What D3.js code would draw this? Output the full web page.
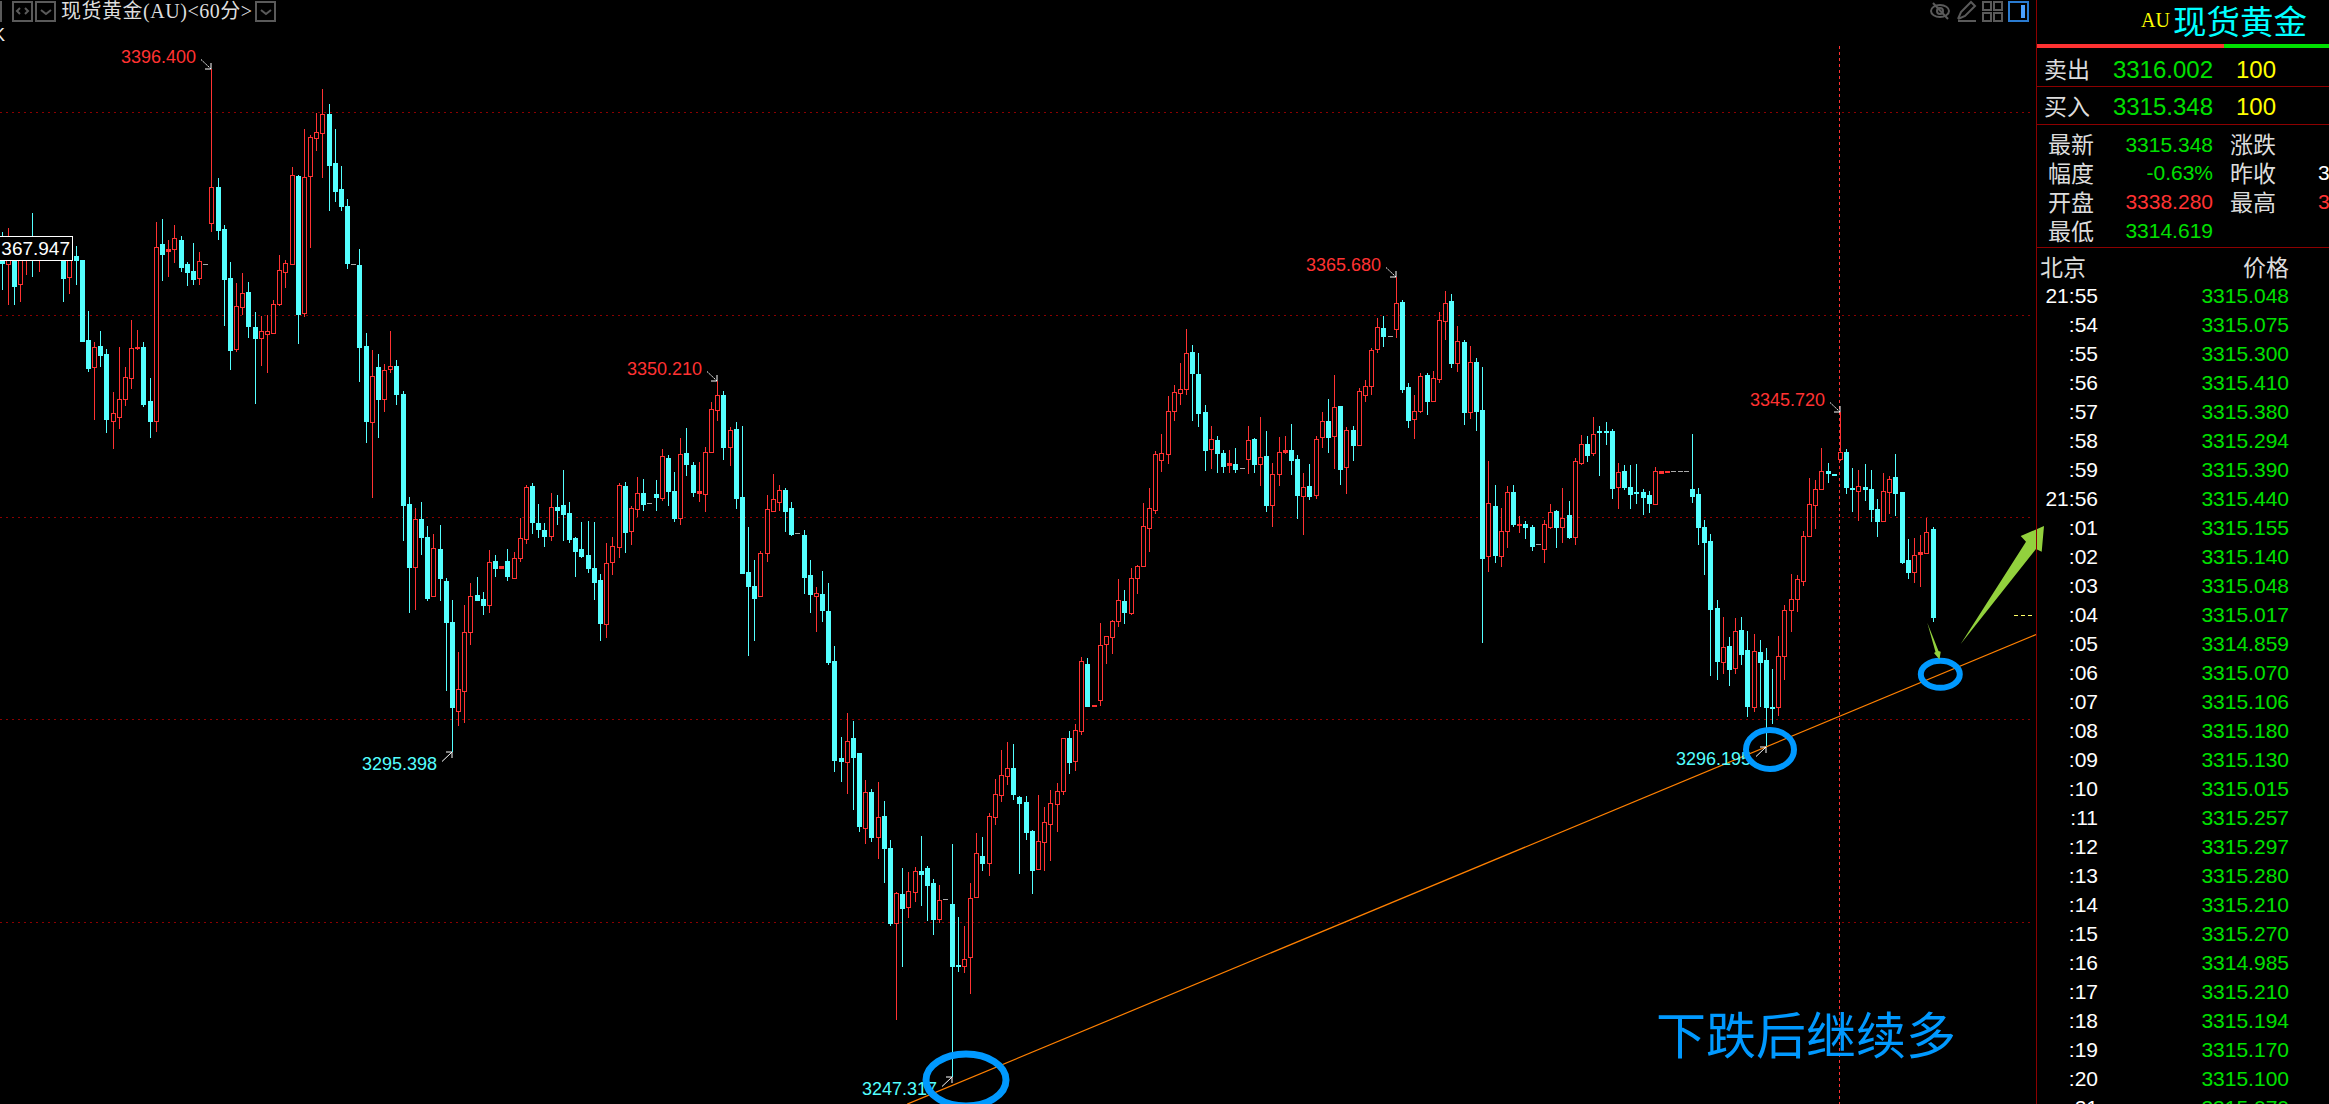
<!DOCTYPE html>
<html>
<head>
<meta charset="utf-8">
<script src="https://cdn.jsdelivr.net/npm/d3@7"></script>
<style>
  html, body { margin: 0; padding: 0; background: #000; overflow: hidden; }
  svg { display: block; }
  text { font-family: "Liberation Sans", Arial, sans-serif; }
  .cjk { font-family: "Noto Sans CJK SC", sans-serif; }
</style>
</head>
<body>
<svg id="chart" width="2329" height="1104"></svg>
<script>
// 60 minute candles, oldest first
var opens = [
  3369.6,3367.6,3368.9,3364.6,3368.4,3370.4,3368.7,3370.8,3369.0,3370.5,
  3368.9,3365.6,3368.7,3368.1,3356.3,3352.3,3355.4,3354.2,3344.3,3344.9,
  3347.6,3350.7,3355.1,3355.3,3347.3,3344.3,3370.5,3369.5,3369.8,3371.1,
  3367.6,3366.5,3365.5,3367.6,3373.6,3378.9,3372.7,3365.5,3355.0,3361.2,
  3363.4,3358.2,3356.6,3357.2,3357.3,3361.6,3366.4,3367.6,3380.6,3360.3,
  3380.6,3386.2,3386.9,3389.7,3382.5,3378.6,3376.1,3367.6,3367.4,3355.4,
  3344.2,3352.3,3347.6,3352.0,3352.5,3348.3,3332.1,3322.7,3329.8,3327.2,
  3318.5,3325.4,3320.7,3314.6,3301.4,3304.4,3313.1,3318.6,3318.0,3317.1,
  3323.6,3322.6,3323.6,3321.1,3324.1,3326.9,3334.7,3329.2,3328.2,3327.3,
  3331.6,3331.9,3330.7,3327.0,3325.4,3324.5,3322.6,3320.8,3314.3,3323.5,
  3325.7,3334.7,3328.1,3331.3,3333.7,3332.2,3333.5,3332.9,3338.9,3334.0,
  3330.0,3339.6,3337.8,3333.7,3333.5,3339.7,3346.0,3348.2,3340.5,3343.2,
  3333.1,3322.0,3319.9,3318.5,3324.8,3331.0,3332.4,3334.1,3331.5,3327.8,
  3327.5,3321.6,3318.5,3318.7,3316.2,3308.8,3294.5,3293.9,3297.5,3295.2,
  3284.1,3289.5,3282.8,3285.9,3281.2,3270.1,3274.4,3272.4,3274.7,3277.8,
  3278.2,3276.0,3270.7,3273.6,3272.9,3263.9,3263.7,3265.1,3273.9,3280.0,
  3279.0,3285.8,3289.0,3291.8,3293.0,3288.7,3288.0,3283.7,3278.1,3282.1,
  3284.7,3287.7,3289.6,3297.5,3294.0,3298.5,3308.4,3302.3,3303.1,3311.3,
  3312.4,3314.8,3317.7,3315.9,3321.1,3322.9,3328.5,3331.2,3338.6,3339.5,
  3345.8,3348.5,3349.1,3354.5,3351.3,3345.7,3340.2,3341.5,3339.6,3337.8,
  3338.0,3337.4,3338.7,3341.7,3338.0,3339.2,3331.9,3336.5,3339.7,3340.0,
  3338.7,3333.2,3334.7,3333.4,3342.0,3344.3,3342.1,3346.6,3337.5,3343.0,
  3340.8,3348.2,3349.5,3355.0,3358.1,3356.9,3357.9,3361.9,3349.4,3344.6,
  3345.8,3351.1,3347.3,3350.5,3359.1,3362.1,3352.9,3356.0,3345.7,3353.1,
  3346.0,3324.4,3331.8,3324.4,3328.1,3333.8,3328.9,3329.1,3328.7,3326.1,
  3325.4,3328.7,3331.0,3328.7,3330.4,3327.2,3338.1,3340.9,3339.6,3342.9,
  3342.9,3342.9,3334.6,3336.9,3334.6,3333.8,3333.8,3333.4,3332.1,3336.6,
  3336.9,3336.9,3336.9,3336.9,3334.3,3333.5,3328.7,3326.6,3316.7,3308.7,
  3311.1,3307.8,3313.4,3310.5,3302.0,3310.2,3309.0,3302.0,3302.0,3309.6,
  3316.4,3318.0,3320.7,3327.3,3331.9,3334.3,3336.9,3336.5,3338.7,3339.7,
  3334.4,3334.0,3334.6,3334.3,3331.3,3329.5,3333.8,3336.1,3333.8,3323.8,
  3322.0,3324.7,3324.8,3328.4
];
var highs = [
  3372.3,3372.9,3369.6,3369.6,3371.1,3375.1,3371.4,3371.5,3371.4,3371.1,
  3370.4,3369.9,3370.2,3368.1,3360.6,3356.0,3357.6,3355.0,3348.6,3355.3,
  3352.3,3359.3,3357.8,3356.0,3350.7,3373.8,3374.2,3371.1,3373.3,3371.7,
  3367.9,3370.7,3369.3,3367.6,3396.4,3380.3,3373.3,3367.9,3364.7,3366.2,
  3364.9,3360.5,3359.9,3360.0,3362.2,3368.9,3368.1,3381.9,3380.7,3387.5,
  3386.6,3389.9,3393.4,3391.2,3387.5,3382.0,3377.2,3367.6,3369.8,3357.4,
  3354.8,3354.2,3352.8,3357.6,3353.4,3348.8,3333.1,3331.5,3332.4,3328.8,
  3327.6,3329.0,3321.1,3317.9,3310.2,3317.1,3320.4,3321.3,3319.0,3325.3,
  3324.5,3322.9,3325.4,3325.0,3330.0,3334.9,3335.2,3332.1,3329.2,3333.7,
  3333.4,3337.1,3332.4,3327.2,3329.4,3329.5,3329.4,3321.7,3326.3,3327.2,
  3335.2,3335.3,3331.8,3336.1,3335.8,3332.2,3335.6,3340.2,3339.3,3336.8,
  3341.8,3343.3,3338.3,3338.3,3340.5,3347.1,3350.21,3348.8,3343.4,3344.2,
  3343.6,3328.7,3323.8,3325.1,3333.4,3336.5,3334.9,3334.4,3332.4,3327.8,
  3328.2,3323.8,3319.8,3322.2,3320.4,3311.1,3297.6,3301.1,3300.0,3295.2,
  3291.2,3289.9,3290.9,3288.1,3282.4,3274.7,3278.2,3277.6,3278.4,3283.0,
  3278.5,3276.6,3275.7,3273.6,3281.8,3271.0,3269.6,3276.0,3283.4,3282.8,
  3286.4,3291.4,3295.7,3296.9,3296.6,3288.9,3288.9,3283.8,3289.0,3287.2,
  3289.8,3290.8,3297.5,3298.5,3299.5,3309.4,3309.3,3302.4,3314.5,3312.5,
  3314.9,3321.0,3319.3,3322.6,3323.0,3332.2,3334.4,3339.9,3342.4,3348.0,
  3349.7,3352.9,3357.9,3355.6,3354.4,3346.7,3343.6,3342.1,3340.0,3340.0,
  3340.3,3337.4,3343.6,3341.8,3344.9,3342.9,3338.1,3342.0,3342.1,3343.9,
  3339.3,3336.6,3338.0,3342.1,3345.7,3347.6,3351.1,3346.6,3343.4,3343.6,
  3349.2,3350.4,3355.1,3359.6,3359.9,3356.9,3365.68,3362.2,3350.0,3348.2,
  3351.4,3351.4,3351.7,3360.5,3363.6,3363.1,3358.4,3356.3,3355.4,3353.7,
  3352.3,3338.4,3334.9,3331.5,3334.7,3334.9,3330.3,3329.5,3329.0,3326.1,
  3329.7,3332.1,3331.2,3334.4,3332.5,3338.9,3342.3,3342.1,3344.9,3343.6,
  3344.2,3343.2,3338.1,3337.8,3337.8,3338.0,3334.3,3334.0,3337.5,3336.9,
  3337.0,3336.9,3336.9,3336.9,3342.4,3334.4,3329.7,3327.6,3317.9,3315.3,
  3312.4,3315.2,3315.3,3313.3,3312.8,3311.9,3310.8,3307.7,3312.5,3317.1,
  3321.7,3321.6,3328.1,3335.9,3335.6,3340.3,3338.1,3336.5,3345.72,3340.2,
  3337.4,3337.1,3338.0,3337.1,3332.8,3336.6,3336.2,3339.5,3333.8,3326.9,
  3327.0,3327.5,3330.0,3328.7
];
var lows = [
  3363.7,3361.5,3361.5,3361.9,3365.9,3365.6,3366.4,3368.4,3368.4,3368.3,
  3361.9,3363.1,3364.4,3356.2,3351.6,3344.5,3352.3,3342.6,3340.2,3343.2,
  3346.6,3349.1,3354.8,3346.4,3341.8,3342.7,3365.0,3365.6,3367.7,3366.4,
  3364.3,3364.4,3364.4,3367.6,3372.3,3371.1,3358.4,3351.9,3354.5,3360.0,
  3356.6,3346.9,3352.5,3351.4,3357.3,3361.3,3364.0,3367.6,3355.7,3359.7,
  3369.9,3384.3,3380.3,3375.4,3376.7,3375.4,3366.8,3367.6,3350.1,3341.1,
  3333.0,3341.8,3345.7,3351.4,3346.7,3326.6,3315.9,3316.4,3324.5,3317.7,
  3318.5,3317.7,3304.4,3295.398,3299.2,3299.7,3311.2,3317.9,3315.6,3315.9,
  3321.3,3322.6,3320.7,3321.1,3323.5,3326.1,3327.6,3327.0,3325.7,3326.6,
  3328.9,3326.6,3326.3,3321.3,3324.1,3321.8,3317.9,3311.8,3312.2,3321.6,
  3324.1,3324.8,3326.0,3330.1,3331.0,3332.2,3331.0,3332.5,3331.8,3329.4,
  3328.9,3336.2,3333.1,3332.4,3330.9,3339.7,3344.3,3338.6,3337.7,3331.3,
  3321.9,3309.6,3311.8,3318.5,3323.5,3331.0,3331.0,3327.9,3327.3,3327.8,
  3318.7,3315.9,3313.1,3314.6,3308.2,3292.4,3290.9,3289.2,3286.8,3283.5,
  3281.8,3282.1,3279.6,3276.0,3269.6,3255.7,3263.6,3270.8,3273.2,3272.6,
  3270.4,3268.3,3270.1,3273.6,3247.317,3262.8,3262.7,3259.6,3273.9,3277.8,
  3277.0,3284.6,3288.0,3290.5,3288.3,3277.3,3282.4,3274.4,3278.1,3277.8,
  3279.3,3283.5,3289.0,3292.1,3292.6,3297.9,3302.2,3302.3,3302.2,3308.4,
  3309.9,3313.9,3314.3,3315.6,3318.7,3322.9,3325.0,3330.6,3336.8,3338.0,
  3344.3,3346.7,3348.2,3344.3,3343.4,3336.9,3337.2,3336.6,3336.6,3336.6,
  3336.6,3337.4,3336.5,3336.6,3334.7,3330.9,3328.7,3334.7,3339.5,3336.4,
  3329.8,3327.5,3332.7,3332.8,3340.3,3339.6,3337.2,3334.9,3333.5,3338.4,
  3340.8,3347.1,3348.2,3354.4,3355.3,3356.9,3356.6,3348.5,3343.3,3341.7,
  3345.5,3345.2,3347.3,3350.0,3356.3,3352.2,3351.6,3343.7,3344.6,3342.9,
  3311.5,3322.0,3323.3,3322.7,3325.6,3328.7,3327.8,3326.9,3325.1,3326.1,
  3323.3,3328.4,3325.6,3326.3,3326.9,3326.0,3337.8,3338.3,3339.2,3336.2,
  3340.8,3332.8,3331.3,3334.1,3331.3,3332.1,3330.4,3330.7,3332.1,3336.6,
  3336.9,3336.9,3336.9,3336.9,3332.2,3326.0,3321.6,3306.6,3306.0,3306.9,
  3305.1,3306.9,3308.2,3300.6,3301.3,3302.0,3296.195,3299.5,3300.7,3306.0,
  3313.1,3316.1,3319.9,3327.3,3328.4,3334.3,3335.2,3336.4,3338.4,3333.5,
  3330.9,3329.5,3332.5,3329.4,3327.2,3329.5,3330.6,3330.3,3323.2,3321.0,
  3320.4,3319.8,3324.8,3314.6
];
var closes = [
  3367.7,3369.3,3364.3,3368.4,3369.9,3368.7,3370.4,3369.3,3370.8,3368.9,
  3365.5,3368.9,3368.1,3356.2,3352.2,3355.3,3354.1,3344.6,3345.5,3347.6,
  3350.8,3355.1,3355.3,3346.8,3344.3,3370.1,3369.0,3369.8,3371.4,3367.1,
  3366.4,3365.3,3368.0,3367.6,3378.9,3372.6,3365.3,3354.8,3361.3,3363.3,
  3358.4,3356.6,3357.6,3357.6,3361.6,3366.7,3367.7,3380.7,3360.2,3380.4,
  3386.3,3387.1,3389.7,3382.2,3378.4,3376.1,3367.7,3367.6,3355.3,3344.3,
  3351.0,3347.6,3351.9,3352.5,3348.3,3331.9,3322.7,3329.8,3327.2,3318.2,
  3325.6,3321.1,3314.6,3302.0,3304.7,3313.1,3318.5,3317.9,3317.1,3323.5,
  3322.6,3322.9,3321.4,3324.1,3327.0,3334.6,3329.4,3328.4,3327.3,3331.6,
  3331.2,3330.6,3326.9,3325.1,3324.4,3322.6,3320.5,3314.5,3323.3,3325.8,
  3334.9,3327.9,3331.5,3333.7,3332.1,3332.2,3333.1,3339.2,3334.0,3330.0,
  3339.5,3338.0,3333.8,3334.0,3339.7,3346.1,3348.2,3340.5,3343.0,3333.0,
  3321.9,3319.9,3318.2,3324.8,3331.3,3332.8,3334.1,3331.0,3327.6,3327.8,
  3321.3,3318.7,3318.9,3316.4,3308.7,3294.2,3294.0,3297.0,3294.6,3284.4,
  3289.5,3282.8,3285.8,3281.2,3270.1,3274.5,3272.3,3274.8,3277.8,3277.3,
  3275.7,3270.7,3273.5,3273.6,3263.7,3263.7,3264.8,3273.8,3280.4,3279.0,
  3285.9,3289.2,3292.0,3293.0,3289.2,3287.8,3283.5,3277.9,3282.2,3285.0,
  3287.8,3289.6,3297.5,3293.9,3298.6,3308.8,3302.2,3302.4,3311.2,3312.5,
  3314.8,3317.9,3316.1,3321.1,3322.9,3328.8,3331.5,3339.5,3339.6,3345.8,
  3348.6,3349.1,3354.4,3351.4,3345.5,3340.0,3341.7,3339.6,3337.7,3338.1,
  3337.2,3337.4,3341.5,3338.0,3339.0,3331.9,3336.5,3339.7,3340.0,3338.6,
  3333.4,3334.6,3333.2,3341.7,3344.3,3342.0,3346.4,3337.2,3343.0,3340.8,
  3348.8,3349.5,3354.8,3358.2,3356.9,3356.9,3361.8,3349.1,3344.5,3345.8,
  3351.0,3347.3,3350.7,3359.3,3361.8,3352.9,3356.2,3345.7,3353.1,3345.8,
  3324.1,3332.2,3324.5,3328.1,3333.8,3329.1,3329.1,3328.7,3325.9,3326.1,
  3329.1,3330.9,3328.7,3330.0,3327.2,3338.4,3340.9,3339.3,3342.4,3342.7,
  3342.7,3334.4,3336.8,3334.6,3333.5,3333.7,3333.1,3332.2,3336.9,3336.9,
  3337.0,3336.9,3336.9,3336.9,3333.2,3328.7,3326.4,3316.5,3308.8,3310.9,
  3307.7,3313.3,3309.9,3302.2,3310.3,3308.7,3302.0,3301.9,3309.6,3316.4,
  3318.0,3321.0,3327.3,3332.1,3334.3,3336.9,3336.6,3336.4,3339.7,3334.6,
  3334.3,3334.7,3334.3,3331.3,3329.5,3334.0,3335.8,3333.7,3323.5,3322.0,
  3324.5,3325.0,3327.9,3315.3
];

var gridPrices = [3390.0, 3360.0, 3330.1, 3300.2, 3270.3];

// extreme price callouts: candle number, price, text, high or low
var extremeIndex = [34, 116, 226, 298, 73, 154, 286];
var extremePrice = [3396.4, 3350.21, 3365.68, 3345.72, 3295.398, 3247.317, 3296.195];
var extremeText = ["3396.400", "3350.210", "3365.680", "3345.720", "3295.398", "3247.317", "3296.195"];
var extremeIsHigh = [true, true, true, true, false, false, false];

// trend line ends, candle number and price
var trendIndex = [146.8, 329.9];
var trendPrice = [3243.3, 3312.8];

var lastPrice = 3315.7;
var crossIndex = 297.8;

// right panel
var quoteTimes = ["21:55", ":54", ":55", ":56", ":57", ":58", ":59", "21:56", ":01", ":02", ":03", ":04", ":05", ":06",
  ":07", ":08", ":09", ":10", ":11", ":12", ":13", ":14", ":15", ":16", ":17", ":18", ":19", ":20", ":21"];
var quotePrices = ["3315.048", "3315.075", "3315.300", "3315.410", "3315.380", "3315.294", "3315.390", "3315.440",
  "3315.155", "3315.140", "3315.048", "3315.017", "3314.859", "3315.070", "3315.106", "3315.180", "3315.130",
  "3315.015", "3315.257", "3315.297", "3315.280", "3315.210", "3315.270", "3314.985", "3315.210", "3315.194",
  "3315.170", "3315.100", "3315.070"];

var RED = "#ff3232", CYAN = "#54ffff", GREEN = "#00e000", BLUE = "#0099ff", LEAF = "#92d13d", DARKRED = "#8c0000";
var panelX = 2036.5;

var svg = d3.select("#chart");
var x = d3.scaleLinear().domain([0, opens.length - 1]).range([1.6, 1932.5]);
var y = d3.scaleLinear().domain([3396.4, 3247.317]).range([69, 1077]);

// grid
var gridAxis = d3.axisLeft(y).tickValues(gridPrices).tickSize(-(panelX - 4)).tickFormat("");
var grid = svg.append("g").call(gridAxis);
grid.select(".domain").remove();
grid.selectAll("line")
  .attr("stroke", "#8c0000").attr("stroke-dasharray", "2 4")
  .attr("shape-rendering", "crispEdges");

// crosshair
svg.append("line")
  .attr("x1", Math.round(x(crossIndex)) + 0.5).attr("x2", Math.round(x(crossIndex)) + 0.5)
  .attr("y1", 46).attr("y2", 1104)
  .attr("stroke", "#ff3232").attr("stroke-dasharray", "3 3")
  .attr("shape-rendering", "crispEdges");

// candles
var candles = d3.range(opens.length).map(function(i) {
  return {i: i, o: opens[i], h: highs[i], l: lows[i], c: closes[i]};
});
function cx(d) { return Math.round(x(d.i)); }
function candleColor(d) {
  if (d.h === d.l) return "#aaaaaa";
  return d.c >= d.o ? RED : CYAN;
}

var candleG = svg.append("g").attr("shape-rendering", "crispEdges");
candleG.selectAll("line").data(candles.filter(function(d) { return d.h !== d.l; })).join("line")
  .attr("x1", function(d) { return cx(d) + 0.5; })
  .attr("x2", function(d) { return cx(d) + 0.5; })
  .attr("y1", function(d) { return Math.round(y(d.h)); })
  .attr("y2", function(d) { return Math.round(y(d.l)); })
  .attr("stroke", candleColor);

candleG.selectAll("rect").data(candles).join("rect")
  .each(function(d) {
    var top = Math.round(y(Math.max(d.o, d.c)));
    var bot = Math.round(y(Math.min(d.o, d.c)));
    var sel = d3.select(this);
    if (d.h === d.l) {
      sel.attr("x", cx(d) - 2).attr("width", 5).attr("y", top).attr("height", 1).attr("fill", "#aaaaaa");
    } else if (d.c >= d.o && bot - top >= 3) {
      sel.attr("x", cx(d) - 1.5).attr("width", 4).attr("y", top + 0.5).attr("height", bot - top)
        .attr("fill", "#000").attr("stroke", RED);
    } else {
      sel.attr("x", cx(d) - 2).attr("width", 5).attr("y", top).attr("height", Math.max(bot - top, 1) + 1)
        .attr("fill", candleColor(d));
    }
  });

// trend line
svg.append("line")
  .attr("x1", x(trendIndex[0])).attr("y1", y(trendPrice[0]))
  .attr("x2", x(trendIndex[1])).attr("y2", y(trendPrice[1]))
  .attr("stroke", "#ff8000").attr("stroke-width", 1.2);

// last price tick
svg.append("line")
  .attr("x1", 2014).attr("x2", 2035)
  .attr("y1", Math.round(y(lastPrice)) + 0.5).attr("y2", Math.round(y(lastPrice)) + 0.5)
  .attr("stroke", "#ffff66").attr("stroke-dasharray", "4 3")
  .attr("shape-rendering", "crispEdges");

// high / low callouts
extremeIndex.forEach(function(idx, k) {
  var px = Math.round(x(idx));
  var py = Math.round(y(extremePrice[k]));
  var dir = extremeIsHigh[k] ? -1 : 1;
  svg.append("text")
    .attr("x", px - 15).attr("y", py + dir * 12)
    .attr("dominant-baseline", "central").attr("text-anchor", "end")
    .attr("font-size", 18)
    .attr("fill", extremeIsHigh[k] ? RED : CYAN)
    .text(extremeText[k]);
  svg.append("line")
    .attr("x1", px - 10).attr("y1", py + dir * 9.5).attr("x2", px).attr("y2", py)
    .attr("stroke", "#fff").attr("stroke-dasharray", extremeIsHigh[k] ? "2 1" : null);
  svg.append("path")
    .attr("d", "M" + (px - 6) + "," + py + "L" + px + "," + py + "L" + px + "," + (py + dir * 6))
    .attr("fill", "none").attr("stroke", "#fff");
});

// price box at the left edge
svg.append("rect").attr("x", -3).attr("y", 236).attr("width", 75.5).attr("height", 24.5)
  .attr("fill", "#000").attr("stroke", "#fff").attr("shape-rendering", "crispEdges");
svg.append("text").attr("x", 70).attr("y", 248.5)
  .attr("text-anchor", "end").attr("dominant-baseline", "central")
  .attr("font-size", 19).attr("fill", "#fff").text("367.947");

// hand drawn marks
function ring(cxv, cyv, rx, ry, sw) {
  svg.append("ellipse").attr("cx", cxv).attr("cy", cyv).attr("rx", rx).attr("ry", ry)
    .attr("fill", "none").attr("stroke", BLUE).attr("stroke-width", sw);
}
ring(966, 1080, 40, 26, 7);
ring(1770, 749.5, 24, 19.5, 6);
ring(1940.3, 674.3, 19.5, 13.5, 6);

svg.append("polygon").attr("fill", LEAF)
  .attr("points", "2044,526 2020.7,536 2026,541.7 1960.7,644 2036,549 2041.7,551.7");
svg.append("polygon").attr("fill", LEAF)
  .attr("points", "1927.3,622.7 1935.5,652 1934,653 1939.5,659.5 1940.7,651.7 1938.5,651");

svg.append("text").attr("class", "cjk")
  .attr("x", 1656).attr("y", 1054).attr("font-size", 50).attr("fill", BLUE)
  .text("下跌后继续多");

// top left toolbar
var toolbar = svg.append("g").attr("fill", "none").attr("stroke", "#5a5a5a").attr("stroke-width", 2);
[[-8, 9], [13, 19], [36, 19], [256, 19]].forEach(function(b) {
  toolbar.append("rect").attr("x", b[0]).attr("y", 2).attr("width", b[1]).attr("height", 19);
});
toolbar.append("path").attr("d", "M41,10l5,4l5,-4M261,10l5,4l5,-4M20,8l-3,3l3,3M25,8l3,3l-3,3");
svg.append("text").attr("x", 61).attr("y", 11).attr("dominant-baseline", "central")
  .attr("font-size", 20).attr("fill", "#dddddd")
  .style("font-family", '"Liberation Serif","Noto Sans CJK SC",serif')
  .attr("textLength", 191).text("现货黄金(AU)<60分>");
svg.append("text").attr("x", -7).attr("y", 41).attr("font-size", 18).attr("fill", "#eee").text("K");

// top right toolbar
var tools = svg.append("g").attr("fill", "none").attr("stroke", "#5a5a5a").attr("stroke-width", 2);
tools.append("ellipse").attr("cx", 1940).attr("cy", 11).attr("rx", 9).attr("ry", 6);
tools.append("circle").attr("cx", 1940).attr("cy", 11).attr("r", 3);
tools.append("path").attr("d", "M1933,3L1948,19");
tools.append("path").attr("d", "M1958,19L1961,12L1971,2L1975,6L1965,16L1958,19M1958,21H1976");
[[1983, 2], [1994, 2], [1983, 13], [1994, 13]].forEach(function(b) {
  tools.append("rect").attr("x", b[0]).attr("y", b[1]).attr("width", 8).attr("height", 8);
});
svg.append("rect").attr("x", 2009).attr("y", 2).attr("width", 19).attr("height", 19)
  .attr("fill", "none").attr("stroke", "#2a7bd0").attr("stroke-width", 2);
svg.append("rect").attr("x", 2021).attr("y", 5).attr("width", 4).attr("height", 13).attr("fill", "#4aa0ff");

// right panel
var panel = svg.append("g");
panel.append("line").attr("x1", panelX).attr("x2", panelX).attr("y1", 0).attr("y2", 1104)
  .attr("stroke", DARKRED).attr("shape-rendering", "crispEdges");
[86, 124, 247].forEach(function(ly) {
  panel.append("line").attr("x1", panelX).attr("x2", 2329).attr("y1", ly + 0.5).attr("y2", ly + 0.5)
    .attr("stroke", DARKRED).attr("shape-rendering", "crispEdges");
});
panel.append("rect").attr("x", 2037).attr("y", 44).attr("width", 187).attr("height", 4).attr("fill", RED);
panel.append("rect").attr("x", 2224).attr("y", 44).attr("width", 105).attr("height", 4).attr("fill", GREEN);

function put(tx, ty, str, color, size, anchor, cls) {
  return panel.append("text")
    .attr("x", tx).attr("y", ty)
    .attr("class", cls || null)
    .attr("dominant-baseline", "central")
    .attr("text-anchor", anchor || "start")
    .attr("font-size", size).attr("fill", color)
    .text(str);
}
var LABEL = "#dcdcdc";

put(2141, 20, "AU", "#ffff00", 20, "start").style("font-family", '"Liberation Serif",serif');
put(2173, 19, "现货黄金", "#00ffff", 33.5, "start", "cjk");

put(2044, 68, "卖出", LABEL, 23, "start", "cjk");
put(2213, 69.5, "3316.002", GREEN, 24, "end");
put(2236, 69.5, "100", "#ffff00", 24);
put(2044, 105, "买入", LABEL, 23, "start", "cjk");
put(2213, 106.5, "3315.348", GREEN, 24, "end");
put(2236, 106.5, "100", "#ffff00", 24);

put(2048, 143, "最新", LABEL, 23, "start", "cjk");
put(2213, 144, "3315.348", GREEN, 21, "end");
put(2230, 143, "涨跌", LABEL, 23, "start", "cjk");
put(2048, 172, "幅度", LABEL, 23, "start", "cjk");
put(2213, 172.5, "-0.63%", GREEN, 21, "end");
put(2230, 172, "昨收", LABEL, 23, "start", "cjk");
put(2318, 172.5, "3", "#ffffff", 21);
put(2048, 201, "开盘", LABEL, 23, "start", "cjk");
put(2213, 201.5, "3338.280", RED, 21, "end");
put(2230, 201, "最高", LABEL, 23, "start", "cjk");
put(2318, 201.5, "3", RED, 21);
put(2048, 230, "最低", LABEL, 23, "start", "cjk");
put(2213, 230.5, "3314.619", GREEN, 21, "end");

put(2040, 266, "北京", LABEL, 23, "start", "cjk");
put(2243, 266, "价格", LABEL, 23, "start", "cjk");

quoteTimes.forEach(function(t, k) {
  var ry = 295 + k * 29;
  put(2098, ry, t, "#ffffff", 21, "end");
  put(2289, ry, quotePrices[k], GREEN, 21, "end");
});
</script>
</body>
</html>
